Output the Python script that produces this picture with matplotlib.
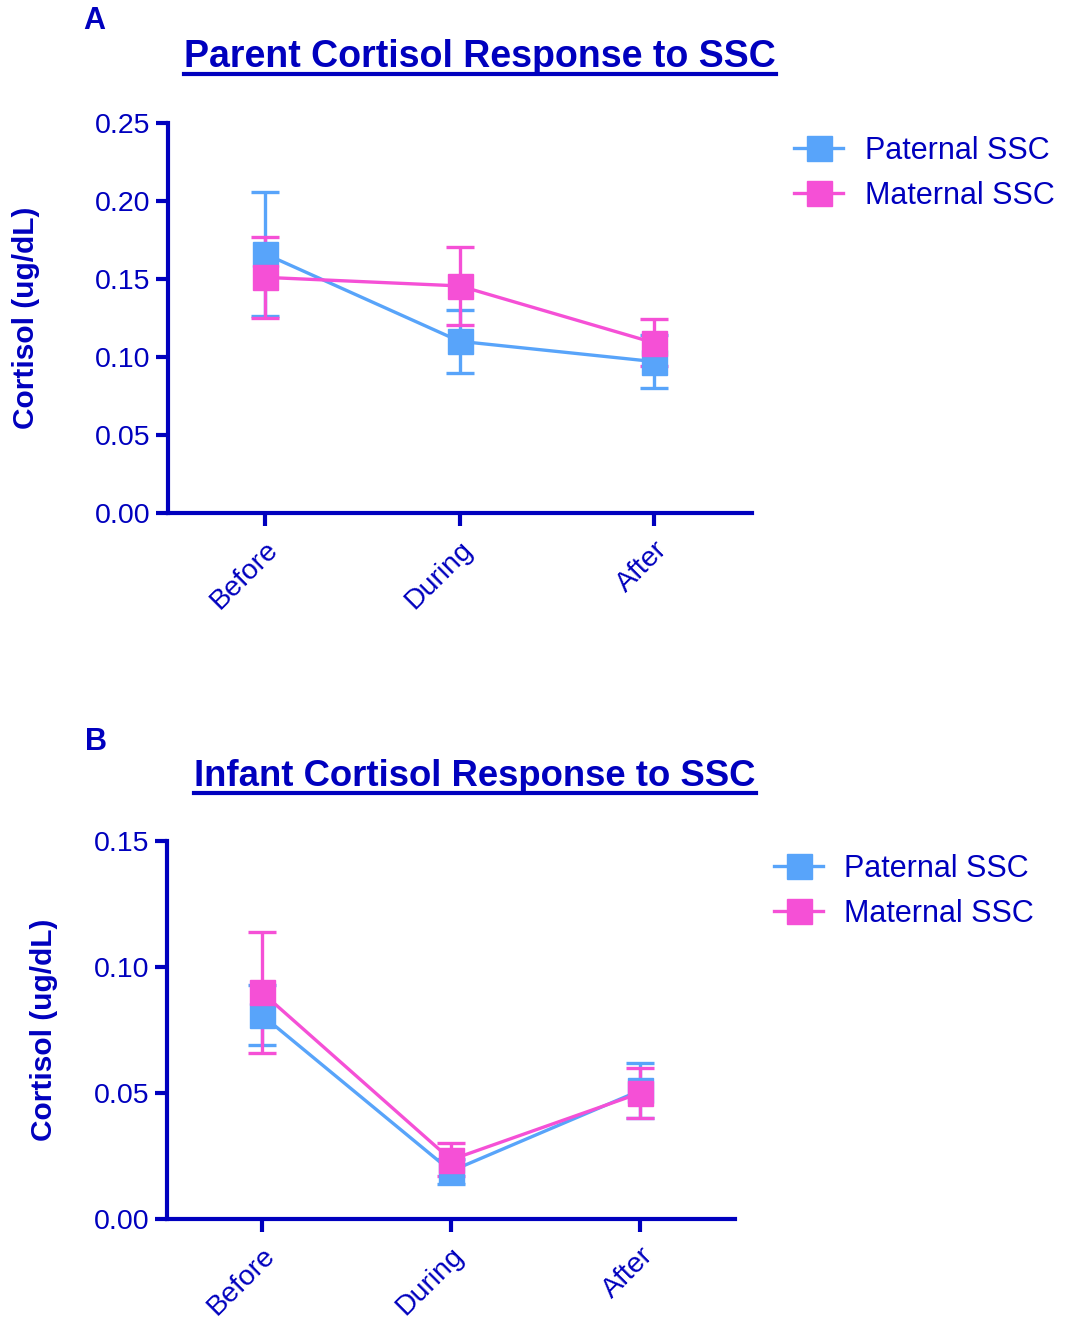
import matplotlib
matplotlib.use('Agg')
import matplotlib.pyplot as plt
from matplotlib.lines import Line2D

plt.rcParams['font.family'] = ['Liberation Sans', 'DejaVu Sans']

# datos
cats = ['Before', 'During', 'After']
series = ['Paternal SSC', 'Maternal SSC']

# Panel A: padres
a_pat = [0.166, 0.110, 0.097]
a_pat_err = [0.040, 0.020, 0.017]
a_mat = [0.151, 0.1455, 0.109]
a_mat_err = [0.026, 0.025, 0.015]

# Panel B: infantes
b_pat = [0.081, 0.019, 0.051]
b_pat_err = [0.012, 0.005, 0.011]
b_mat = [0.090, 0.0235, 0.050]
b_mat_err = [0.024, 0.0065, 0.010]

navy = '#0000BE'
blue = '#58A4FA'
pink = '#F550D6'

fig = plt.figure(figsize=(10.65, 13.2), dpi=100)
axA = fig.add_axes([0.1577, 0.6114, 0.548, 0.2955])
axB = fig.add_axes([0.1568, 0.0765, 0.5333, 0.2864])


def panel(ax, pat, pat_err, mat, mat_err, ymax, ticks, fmt):
    x = range(len(cats))
    for vals, err, col in [(pat, pat_err, blue), (mat, mat_err, pink)]:
        ax.errorbar(x, vals, yerr=err, color=col, lw=2.4, marker='s', ms=18,
                    mec=col, mfc=col, capsize=10, capthick=2.4, elinewidth=2.4)
    ax.set_xlim(-0.5, 2.5)
    ax.set_ylim(0, ymax)
    ax.set_yticks(ticks)
    ax.set_yticklabels([fmt % t for t in ticks])
    ax.set_xticks(list(x))
    ax.set_xticklabels(cats, rotation=45, ha='right', rotation_mode='anchor')
    for s in ['top', 'right']:
        ax.spines[s].set_visible(False)
    for s in ['left', 'bottom']:
        ax.spines[s].set_linewidth(3)
        ax.spines[s].set_color(navy)
    ax.tick_params(axis='both', colors=navy, width=3, length=9, labelsize=20.5,
                   labelcolor=navy)
    ax.tick_params(axis='x', pad=8)
    ax.set_ylabel('Cortisol (ug/dL)', fontsize=21.5, fontweight='bold', color=navy)
    h = [Line2D([], [], color=c, lw=2.4, marker='s', ms=18) for c in (blue, pink)]
    return h


hA = panel(axA, a_pat, a_pat_err, a_mat, a_mat_err, 0.25,
           [0, 0.05, 0.10, 0.15, 0.20, 0.25], '%.2f')
hB = panel(axB, b_pat, b_pat_err, b_mat, b_mat_err, 0.15,
           [0, 0.05, 0.10, 0.15], '%.2f')
axA.yaxis.set_label_coords(-0.219, 0.5)
axB.yaxis.set_label_coords(-0.192, 0.5)

fig.legend(hA, series, loc='upper left', bbox_to_anchor=(0.720, 0.918),
           frameon=False, fontsize=22, labelcolor=navy, handlelength=1.6,
           handletextpad=0.7, labelspacing=0.5)
fig.legend(hB, series, loc='upper left', bbox_to_anchor=(0.701, 0.374),
           frameon=False, fontsize=22, labelcolor=navy, handlelength=1.6,
           handletextpad=0.7, labelspacing=0.5)

fig.text(94 / 1065, 1 - 21 / 1320, 'A', fontsize=22, fontweight='bold',
         color=navy, ha='center', va='center')
fig.text(96 / 1065, 1 - 742 / 1320, 'B', fontsize=22, fontweight='bold',
         color=navy, ha='center', va='center')
tA = fig.text(480 / 1065, 1 - 57 / 1320, 'Parent Cortisol Response to SSC',
              fontsize=27, fontweight='bold', color=navy, ha='center', va='center')
tB = fig.text(475 / 1065, 1 - 777 / 1320, 'Infant Cortisol Response to SSC',
              fontsize=26.3, fontweight='bold', color=navy, ha='center', va='center')

# subrayado de títulos
fig.canvas.draw()
r = fig.canvas.get_renderer()
for t in (tA, tB):
    bb = t.get_window_extent(r).transformed(fig.transFigure.inverted())
    fig.add_artist(Line2D([bb.x0, bb.x1], [bb.y0 + 0.001, bb.y0 + 0.001],
                          color=navy, lw=3, transform=fig.transFigure))

fig.savefig('out.png', dpi=100)
